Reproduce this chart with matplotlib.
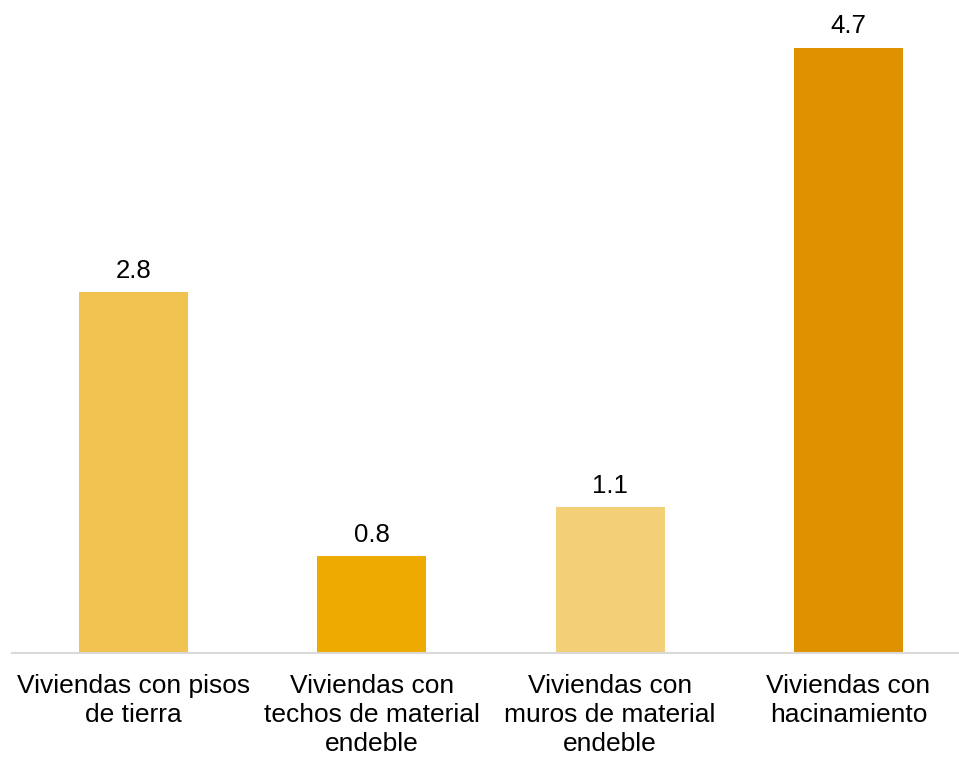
import matplotlib
matplotlib.use("Agg")
import matplotlib.pyplot as plt

categories = ["Viviendas con pisos\nde tierra",
              "Viviendas con\ntechos de material\nendeble",
              "Viviendas con\nmuros de material\nendeble",
              "Viviendas con\nhacinamiento"]
values = [2.8, 0.75, 1.13, 4.7]
colors = ["#F0C250", "#EDAA00", "#F3D078", "#DF9100"]

plt.rcParams["font.family"] = ["Liberation Sans", "DejaVu Sans"]

fig = plt.figure(figsize=(9.59, 7.57), dpi=100)
ax = fig.add_axes([12 / 959, 104 / 757, 947 / 959, 653 / 757])

x = list(range(len(values)))
bars = ax.bar(x, values, width=0.457, color=colors)
for b, v in zip(bars, values):
    ax.annotate(f"{v:.1f}", (b.get_x() + b.get_width() / 2, v),
                xytext=(0, 7), textcoords="offset points",
                ha="center", va="bottom", fontsize=18.5)

ax.set_xlim(-0.51, 3.464)
ax.set_ylim(0, 5.07)
ax.set_xticks(x)
ax.set_xticklabels(categories, fontsize=19, linespacing=1.28)
ax.tick_params(axis="x", length=0, pad=15)
ax.set_yticks([])
for s in ["top", "right", "left"]:
    ax.spines[s].set_visible(False)
ax.spines["bottom"].set_color("#D9D9D9")
ax.spines["bottom"].set_linewidth(1.5)

fig.savefig("out.png", dpi=100)
